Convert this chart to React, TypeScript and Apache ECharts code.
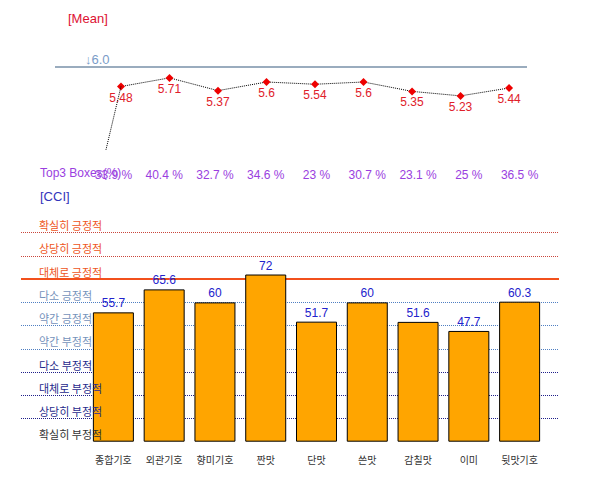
import React, { useEffect, useRef } from "react";
import * as echarts from "echarts";

const categories = ["종합기호", "외관기호", "향미기호", "짠맛", "단맛", "쓴맛", "감칠맛", "이미", "뒷맛기호"];
const meanValues = [5.48, 5.71, 5.37, 5.6, 5.54, 5.6, 5.35, 5.23, 5.44];
const top3Values = [33.9, 40.4, 32.7, 34.6, 23, 30.7, 23.1, 25, 36.5];
const cciValues = [55.7, 65.6, 60, 72, 51.7, 60, 51.6, 47.7, 60.3];
// level names from bottom (value 0) upward, one per 10 points
const levelLabels = [
  "확실히 부정적",
  "상당히 부정적",
  "대체로 부정적",
  "다소 부정적",
  "약간 부정적",
  "약간 긍정적",
  "다소 긍정적",
  "대체로 긍정적",
  "상당히 긍정적",
  "확실히 긍정적",
];
const levelLines = [10, 20, 30, 40, 50, 60, 70, 80, 90];
const meanReference = 6.0;
const strayLineEnd = [-0.31, 3.79];

const FONT = "'Liberation Sans', Arial, 'Noto Sans CJK KR', sans-serif";
const KFONT = "'Noto Sans CJK KR', 'Liberation Sans', sans-serif";

function levelLineStyle(v: number) {
  if (v <= 30) return { color: "#1f1f8a", type: "dotted" as const, width: 1 };
  if (v <= 60) return { color: "#4f7fc2", type: "dotted" as const, width: 1 };
  if (v === 70) return { color: "#f2501c", type: "solid" as const, width: 2 };
  return { color: "#c9463c", type: "dotted" as const, width: 1 };
}
function levelLabelColor(v: number) {
  if (v === 0) return "#333333";
  if (v <= 30) return "#1f2a8c";
  if (v <= 60) return "#7592bb";
  return "#ee5522";
}

export default function App() {
  const ref = useRef<HTMLDivElement>(null);
  useEffect(() => {
    document.body.style.margin = "0";
    const chart = echarts.init(ref.current!, null, { renderer: "svg" });
    const option: any = {
      animation: false,
      backgroundColor: "#ffffff",
      grid: [
        { left: 21, right: 50, top: 209.5, bottom: 43.3 },
        { left: 88, right: 64, top: 209.5, bottom: 43.3 },
        { left: 55, right: 82, top: 67, bottom: 324.25 },
      ],
      xAxis: [
        { gridIndex: 0, type: "value", min: 0, max: 1, show: false },
        {
          gridIndex: 1,
          type: "category",
          data: categories,
          position: "bottom",
          axisLine: { show: false },
          axisTick: { show: false },
          axisLabel: { color: "#333333", fontSize: 10, margin: 13, fontFamily: KFONT },
        },
        {
          gridIndex: 1,
          type: "category",
          data: top3Values.map((v) => `${v} %`),
          position: "top",
          axisLine: { show: false },
          axisTick: { show: false },
          axisLabel: { color: "#9a3ee0", fontSize: 12, margin: 29, fontFamily: FONT },
        },
        { gridIndex: 2, type: "value", min: -1.36, max: 8.37, show: false },
      ],
      yAxis: [
        {
          gridIndex: 0,
          type: "value",
          min: 0,
          max: 100,
          interval: 10,
          z: 10,
          axisLine: { show: false },
          axisTick: { show: false },
          splitLine: { show: false },
          axisLabel: {
            inside: true,
            margin: 18,
            fontSize: 11,
            fontFamily: KFONT,
            verticalAlign: "bottom",
            padding: [0, 0, 2, 0],
            formatter: (v: number) => levelLabels[Math.round(v / 10)] ?? "",
            color: (v: any) => levelLabelColor(Number(v)),
          },
        },
        { gridIndex: 1, type: "value", min: 0, max: 100, show: false },
        { gridIndex: 2, type: "value", min: 3.5, max: 6, show: false },
      ],
      graphic: [
        {
          type: "text",
          left: 68,
          top: 12,
          style: { text: "[Mean]", fill: "#dd1133", font: `13px ${FONT}` },
        },
        {
          type: "text",
          left: 40,
          top: 167,
          z: 5,
          style: { text: "Top3 Boxes(%)", fill: "#9a3ee0", font: `12px ${FONT}` },
        },
        {
          type: "text",
          left: 40,
          top: 190,
          style: { text: "[CCI]", fill: "#3333bb", font: `13px ${FONT}` },
        },
      ],
      series: [
        {
          type: "line",
          xAxisIndex: 0,
          yAxisIndex: 0,
          data: [],
          silent: true,
          z: 1,
          markLine: {
            z: 1,
            silent: true,
            symbol: ["none", "none"],
            label: { show: false },
            data: levelLines.map((v) => ({ yAxis: v, lineStyle: levelLineStyle(v) })),
          },
        },
        {
          type: "bar",
          xAxisIndex: 1,
          yAxisIndex: 1,
          z: 3,
          data: cciValues,
          barWidth: 41,
          itemStyle: { color: "#ffa500", borderColor: "#000000", borderWidth: 1 },
          label: {
            show: true,
            position: "top",
            distance: 3,
            color: "#2222cc",
            fontSize: 12,
            fontFamily: FONT,
          },
        },
        {
          type: "line",
          xAxisIndex: 3,
          yAxisIndex: 2,
          data: meanValues.map((v, i) => [i, v]),
          symbol: "diamond",
          symbolSize: 8,
          itemStyle: { color: "#ee0000" },
          lineStyle: { color: "#000000", width: 1, type: "dotted" },
          label: {
            show: true,
            position: "bottom",
            distance: 1,
            color: "#e0202a",
            fontSize: 12,
            fontFamily: FONT,
            formatter: (p: any) => String(p.value[1]),
          },
          markLine: {
            silent: true,
            symbol: ["none", "none"],
            data: [
              {
                yAxis: meanReference,
                lineStyle: { color: "#7890a8", width: 1.5, type: "solid" },
                label: {
                  show: true,
                  position: "insideStartTop",
                  formatter: "↓" + meanReference.toFixed(1),
                  color: "#7a9cc8",
                  fontSize: 13,
                  fontFamily: FONT,
                  distance: [30, 1],
                },
              },
              [
                { coord: [0, meanValues[0]], lineStyle: { color: "#000000", width: 1, type: "dotted" }, label: { show: false } },
                { coord: strayLineEnd },
              ],
            ],
          },
        },
      ],
    };
    chart.setOption(option);
    return () => chart.dispose();
  }, []);
  return <div ref={ref} style={{ width: 609, height: 485 }} />;
}
